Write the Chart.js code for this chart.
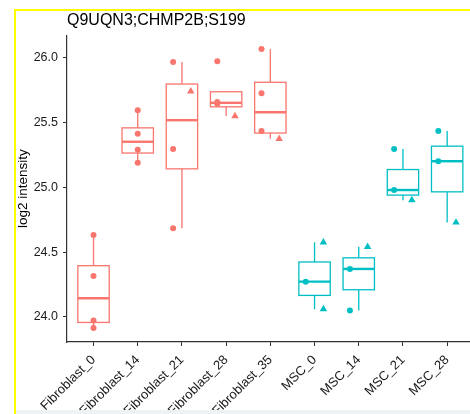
<!DOCTYPE html>
<html>
<head>
<meta charset="utf-8">
<script src="https://cdn.jsdelivr.net/npm/chart.js@4"></script>
<style>
  html, body { margin: 0; padding: 0; background: #fff; overflow: hidden; width: 470px; height: 414px; }
  #wrap { position: relative; width: 470px; height: 414px; overflow: hidden; }
  #chart { position: absolute; left: 0; top: 0; }
  .frame { position: absolute; left: 14px; top: 9px; width: 470px; height: 410px;
           border-top: 2px solid #ffff00; border-left: 2px solid #ffff00; }
  .strip { position: absolute; left: 16px; top: 410px; width: 460px; height: 4px; background: #eef4f6; }
</style>
</head>
<body>
<div id="wrap">
  <canvas id="chart" width="478" height="414"></canvas>
  <div class="frame"></div>
  <div class="strip"></div>
</div>
<script>
// values
const chartTitle = 'Q9UQN3;CHMP2B;S199';
const categories = ['Fibroblast_0', 'Fibroblast_14', 'Fibroblast_21', 'Fibroblast_28', 'Fibroblast_35',
                    'MSC_0', 'MSC_14', 'MSC_21', 'MSC_28'];
const cellTypes = ['Fibroblast', 'Fibroblast', 'Fibroblast', 'Fibroblast', 'Fibroblast',
                   'MSC', 'MSC', 'MSC', 'MSC'];
// samples drawn as circles
const circleValues = [
    [24.632, 24.316, 23.972, 23.915],
    [25.592, 25.412, 25.288, 25.188],
    [25.964, 25.294, 24.683],
    [25.970, 25.657, 25.643],
    [26.064, 25.723, 25.432],
    [24.272],
    [24.370, 24.049],
    [25.294, 24.978],
    [25.432, 25.200]
];
// samples drawn as triangles
const triangleValues = [
    [],
    [],
    [25.738],
    [25.548],
    [25.373],
    [24.575, 24.060],
    [24.541],
    [24.900],
    [24.728]
];
const yTicks = [24.0, 24.5, 25.0, 25.5, 26.0];

const palette = { Fibroblast: '#F8766D', MSC: '#00BFC4' };
const dodge = 0.2;
const boxWidth = 0.71;
const font = "'Liberation Sans', Arial, Helvetica, sans-serif";

// R type 7 quantile
function quantile(sorted, p) {
    const h = (sorted.length - 1) * p;
    const lo = Math.floor(h);
    const hi = Math.ceil(h);
    return sorted[lo] + (h - lo) * (sorted[hi] - sorted[lo]);
}

// ggplot style box statistics
function boxStats(values) {
    const s = values.slice().sort((a, b) => a - b);
    const q1 = quantile(s, 0.25), med = quantile(s, 0.5), q3 = quantile(s, 0.75);
    const iqr = q3 - q1;
    const inside = s.filter(v => v >= q1 - 1.5 * iqr && v <= q3 + 1.5 * iqr);
    const all = inside.concat([q1, med, q3]);
    return { q1: q1, med: med, q3: q3, lo: Math.min(...all), hi: Math.max(...all) };
}

function pointsFor(list, side) {
    const out = [];
    list.forEach(function(vals, i) {
        const mixed = circleValues[i].length > 0 && triangleValues[i].length > 0;
        const off = mixed ? side * dodge : 0;
        vals.forEach(function(v) { out.push({ x: i + off, y: v, cat: i }); });
    });
    return out;
}

const boxPlugin = {
    id: 'boxes',
    beforeDatasetsDraw(chart) {
        const ctx = chart.ctx;
        const xs = chart.scales.x, ys = chart.scales.y;
        ctx.save();
        categories.forEach(function(c, i) {
            const st = boxStats(circleValues[i].concat(triangleValues[i]));
            const color = palette[cellTypes[i]];
            const cx = xs.getPixelForValue(i);
            const x0 = xs.getPixelForValue(i - boxWidth / 2);
            const x1 = xs.getPixelForValue(i + boxWidth / 2);
            const yq1 = ys.getPixelForValue(st.q1), yq3 = ys.getPixelForValue(st.q3);
            ctx.strokeStyle = color;
            ctx.lineWidth = 1.3;
            // whiskers
            ctx.beginPath();
            ctx.moveTo(cx, yq3); ctx.lineTo(cx, ys.getPixelForValue(st.hi));
            ctx.moveTo(cx, yq1); ctx.lineTo(cx, ys.getPixelForValue(st.lo));
            ctx.stroke();
            // box
            ctx.fillStyle = '#fff';
            ctx.fillRect(x0, yq3, x1 - x0, yq1 - yq3);
            ctx.strokeRect(x0, yq3, x1 - x0, yq1 - yq3);
            // median
            ctx.lineWidth = 2.4;
            ctx.beginPath();
            const ym = ys.getPixelForValue(st.med);
            ctx.moveTo(x0, ym); ctx.lineTo(x1, ym);
            ctx.stroke();
        });
        ctx.restore();
    }
};

const pointColor = ctx => palette[cellTypes[ctx.raw ? ctx.raw.cat : 0]];

new Chart(document.getElementById('chart'), {
    type: 'scatter',
    data: {
        datasets: [{
            label: 'circle',
            data: pointsFor(circleValues, -1),
            pointStyle: 'circle',
            pointRadius: 3,
            borderWidth: 0,
            backgroundColor: pointColor,
            borderColor: pointColor
        }, {
            label: 'triangle',
            data: pointsFor(triangleValues, 1),
            pointStyle: 'triangle',
            pointRadius: 4.3,
            borderWidth: 0,
            backgroundColor: pointColor,
            borderColor: pointColor
        }]
    },
    options: {
        responsive: false,
        animation: false,
        layout: { padding: { left: 15, top: 11, right: 0, bottom: 0 } },
        plugins: {
            legend: { display: false },
            tooltip: { enabled: false },
            title: {
                display: true,
                text: chartTitle,
                align: 'start',
                fullSize: false,
                color: '#000',
                font: { family: font, size: 16, weight: 'normal' },
                padding: { top: 0, bottom: 5 }
            }
        },
        scales: {
            x: {
                type: 'linear',
                min: -0.6,
                max: 8.6,
                afterBuildTicks: s => { s.ticks = categories.map((c, i) => ({ value: i })); },
                afterFit: s => { s.height = 72; },
                grid: { drawOnChartArea: false, drawTicks: true, tickLength: 4, tickColor: '#333', tickWidth: 1 },
                border: { display: true, color: '#333', width: 1.2 },
                ticks: {
                    autoSkip: false,
                    minRotation: 45,
                    maxRotation: 45,
                    padding: 3,
                    color: '#1a1a1a',
                    font: { family: font, size: 13, lineHeight: 1.9 },
                    callback: v => categories[v]
                }
            },
            y: {
                min: 23.807,
                max: 26.171,
                afterBuildTicks: s => { s.ticks = yTicks.map(v => ({ value: v })); },
                afterFit: s => { s.width = 52; },
                grid: { drawOnChartArea: false, drawTicks: true, tickLength: 4, tickColor: '#333', tickWidth: 1 },
                border: { display: true, color: '#333', width: 1.2 },
                title: {
                    display: true,
                    text: 'log2 intensity',
                    color: '#000',
                    font: { family: font, size: 13.5 },
                    padding: { top: 0, bottom: 0 }
                },
                ticks: {
                    padding: 5,
                    color: '#1a1a1a',
                    font: { family: font, size: 12.5 },
                    callback: v => v.toFixed(1)
                }
            }
        }
    },
    plugins: [boxPlugin]
});
</script>
</body>
</html>
